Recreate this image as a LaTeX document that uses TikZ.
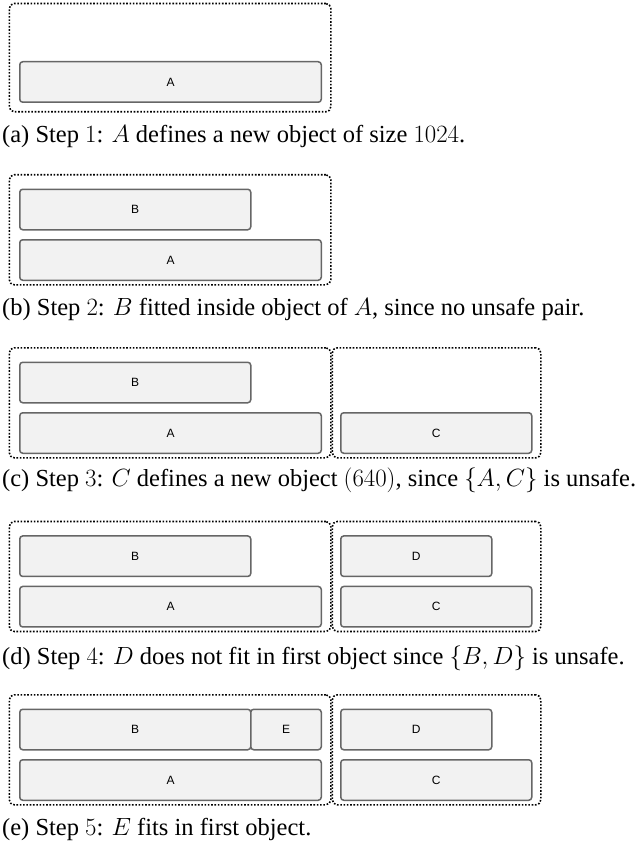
\documentclass[tikz,border=0pt]{standalone}
\usepackage{fontspec}
\setmainfont{Liberation Serif}
\newfontfamily\labelfont{Liberation Sans}
\begin{document}
\begin{tikzpicture}[x=1pt,y=-1pt,
  objbox/.style={draw=black, line width=1.6pt, dash pattern=on 1.6pt off 1.7pt,
    rounded corners=5pt, anchor=north west, inner sep=0pt},
  blk/.style={draw=black!60, fill=black!5, line width=1.5pt, rounded corners=3pt,
    anchor=north west, inner sep=0pt, minimum height=40.5pt,
    font=\labelfont\fontsize{12}{14}\selectfont},
  captext/.style={anchor=base west, inner sep=0pt, font=\fontsize{24.5}{28}\selectfont}]
\useasboundingbox (0,0) rectangle (640,845);

% (a) one object holding A
\node[objbox, minimum width=321.5pt, minimum height=108.3pt] (oa) at (8.5,2.7) {};
\node[blk, minimum width=301.5pt] (aA) at (19,61) {A};
\node[captext] (capa) at (2,143) {(a) Step $1$: $A$ defines a new object of size $1024$.};

% (b) B placed on top of A
\node[objbox, minimum width=321.5pt, minimum height=110pt] (ob) at (8.5,174) {};
\node[blk, minimum width=231pt] (bB) at (19,188.5) {B};
\node[blk, minimum width=301.5pt] (bA) at (19,239) {A};
\node[captext] (capb) at (2,315) {(b) Step $2$: $B$ fitted inside object of $A$, since no unsafe pair.};

% (c) second object for C
\node[objbox, minimum width=321.5pt, minimum height=110pt] (oc1) at (8.5,347) {};
\node[objbox, minimum width=208.5pt, minimum height=110pt] (oc2) at (331.5,347) {};
\node[blk, minimum width=231pt] (cB) at (19,361.5) {B};
\node[blk, minimum width=301.5pt] (cA) at (19,412) {A};
\node[blk, minimum width=191pt] (cC) at (340,412) {C};
\node[captext] (capc) at (2,486) {(c) Step $3$: $C$ defines a new object $(640)$, since $\{A,C\}$ is unsafe.};

% (d) D goes into the second object
\node[objbox, minimum width=321.5pt, minimum height=110pt] (od1) at (8.5,520.7) {};
\node[objbox, minimum width=208.5pt, minimum height=110pt] (od2) at (331.5,520.7) {};
\node[blk, minimum width=231pt] (dB) at (19,535.2) {B};
\node[blk, minimum width=151pt] (dD) at (340,535.2) {D};
\node[blk, minimum width=301.5pt] (dA) at (19,585.7) {A};
\node[blk, minimum width=191pt] (dC) at (340,585.7) {C};
\node[captext] (capd) at (2,664) {(d) Step $4$: $D$ does not fit in first object since $\{B,D\}$ is unsafe.};

% (e) E fills the first object
\node[objbox, minimum width=321.5pt, minimum height=110pt] (oe1) at (8.5,694) {};
\node[objbox, minimum width=208.5pt, minimum height=110pt] (oe2) at (331.5,694) {};
\node[blk, minimum width=231pt] (eB) at (19,708.5) {B};
\node[blk, minimum width=70.5pt] (eE) at (250,708.5) {E};
\node[blk, minimum width=151pt] (eD) at (340,708.5) {D};
\node[blk, minimum width=301.5pt] (eA) at (19,759) {A};
\node[blk, minimum width=191pt] (eC) at (340,759) {C};
\node[captext] (cape) at (2,835) {(e) Step $5$: $E$ fits in first object.};
\end{tikzpicture}
\end{document}
